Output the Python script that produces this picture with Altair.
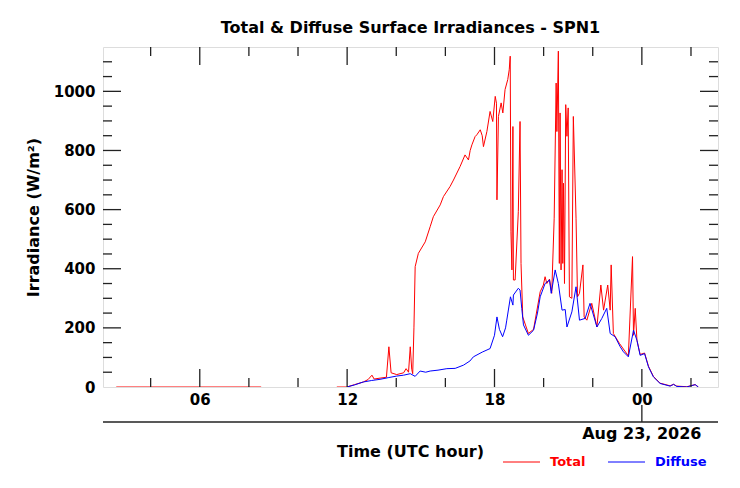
import altair as alt
import pandas as pd

# ---------------- data (hours from 2026-08-22 00:00 UTC, W/m^2) ----------------
total_hours = [2.6, 8.5,
               11.58, 11.99, 12.3, 12.66, 12.85, 13.01, 13.1, 13.34, 13.6, 13.70, 13.79, 14.02, 14.3,
               14.40, 14.5, 14.57, 14.63, 14.67, 14.72, 14.77, 14.90, 15.18, 15.38, 15.51, 15.79,
               15.92, 16.19, 16.33, 16.60, 16.80, 16.94, 17.01, 17.08, 17.21, 17.28, 17.42, 17.50,
               17.55, 17.69, 17.82, 17.93, 18.03, 18.08, 18.10, 18.16, 18.27, 18.34, 18.43, 18.54,
               18.60, 18.64, 18.67, 18.71, 18.75, 18.77, 18.84, 18.97, 19.04, 19.08, 19.15, 19.38,
               19.59, 19.86, 19.99, 20.06, 20.13, 20.24, 20.33, 20.43, 20.51, 20.54, 20.60, 20.64,
               20.67, 20.71, 20.75, 20.78, 20.81, 20.85, 20.90, 20.95, 21.00, 21.05, 21.15, 21.21,
               21.32, 21.38, 21.46, 21.60, 21.65, 21.76, 21.96, 22.17, 22.33, 22.44, 22.61, 22.71,
               22.75, 22.84, 23.09, 23.45, 23.62, 23.66, 23.73, 23.80, 23.93, 24.11, 24.27, 24.47,
               24.74, 25.15, 25.29, 25.42, 25.83, 26.17, 26.30]
total_values = [0, 0,
                0, 0, 8, 17, 25, 40, 27, 30, 33, 136, 48, 42, 48,
                62, 50, 136, 60, 45, 200, 407, 452, 491, 542, 576, 616,
                644, 678, 700, 746, 785, 768, 800, 819, 847, 853, 870, 850,
                813, 864, 932, 898, 983, 960, 633, 915, 961, 927, 1006, 1040,
                1073, 1119, 525, 396, 881, 362, 362, 593, 898, 418, 237, 181,
                195, 322, 345, 373, 350, 365, 317, 571, 1028, 864, 1136, 418,
                927, 396, 735, 418, 689, 350, 955, 848, 944, 305, 300, 915,
                571, 305, 317, 413, 237, 226, 283, 203, 345, 260, 345, 260,
                413, 181, 147, 105, 441, 175, 266, 158, 110, 115, 70, 36,
                13, 4, 9, 3, 1, 8, 0]

diffuse_hours = [11.99, 12.3, 12.66, 13.0, 13.34, 13.7, 14.02, 14.3, 14.57, 14.77, 14.97, 15.2,
                 15.38, 15.7, 16.06, 16.4, 16.74, 17.0, 17.14, 17.5, 17.82, 18.0, 18.10, 18.2,
                 18.33, 18.45, 18.50, 18.65, 18.75, 18.77, 18.97, 19.04, 19.11, 19.18, 19.38,
                 19.59, 19.75, 19.86, 20.06, 20.24, 20.31, 20.47, 20.60, 20.75, 20.88, 20.95,
                 21.15, 21.32, 21.46, 21.69, 21.89, 22.17, 22.37, 22.57, 22.71, 22.91, 23.12,
                 23.25, 23.45, 23.66, 23.80, 23.93, 24.11, 24.27, 24.47, 24.74, 25.15, 25.29,
                 25.42, 25.83, 26.17, 26.30]
diffuse_values = [0, 7, 17, 22, 26, 32, 37, 40, 45, 36, 54, 50,
                  54, 57, 62, 63, 74, 88, 102, 118, 130, 175, 237, 195,
                  170, 200, 226, 305, 277, 311, 334, 328, 266, 210, 175,
                  192, 250, 305, 350, 362, 317, 396, 350, 260, 262, 203,
                  254, 339, 226, 232, 283, 203, 232, 266, 181, 170, 136,
                  119, 102, 192, 158, 107, 113, 68, 34, 12, 3, 9,
                  2, 0, 8, 0]

x_major_ticks = [6, 12, 18, 24]
x_minor_ticks = [4, 8, 10, 14, 16, 20, 22, 26]
y_labels = [0, 200, 400, 600, 800, 1000]
y_major_ticks = [200, 400, 600, 800, 1000]
y_minor_ticks = [50, 100, 150, 250, 300, 350, 450, 500, 550, 650, 700, 750, 850, 900, 950, 1050, 1100]
date_label_hour = [24]
date_label_text = ["Aug 23, 2026"]
series_names = ["Total", "Diffuse"]
series_colors = ["#ff0000", "#0000ff"]

# ---------------- layout ----------------
W, H = 615, 340
MAJ, MIN = 18, 9
FRAME = "#222222"
FONT = "DejaVu Sans"

total_df = pd.DataFrame({"hour": total_hours, "value": total_values})
total_df["seg"] = (total_df["hour"] > 10).astype(int)
diffuse_df = pd.DataFrame({"hour": diffuse_hours, "value": diffuse_values})

xs = alt.Scale(domain=[2.06, 27.1], nice=False, zero=False)
ys = alt.Scale(domain=[0, 1150], nice=False, zero=True)

x_axis = alt.Axis(values=x_major_ticks, ticks=False, domain=False, grid=False,
                  labelExpr="datum.value == 24 ? '00' : (datum.value < 10 ? '0' + datum.value : '' + datum.value)",
                  labelFont=FONT, labelFontSize=15, labelFontWeight="bold", labelColor="black",
                  labelPadding=5, title=None)
y_axis = alt.Axis(values=y_labels, format="d", ticks=False, domain=False, grid=False,
                  labelFont=FONT, labelFontSize=15, labelFontWeight="bold", labelColor="black",
                  labelPadding=8, title="Irradiance (W/m²)", titleFont=FONT, titleFontSize=16,
                  titleFontWeight="bold", titleColor="black", titlePadding=12)

def X(field):
    return alt.X(field, scale=xs, axis=x_axis, title=None)

def Y(field):
    return alt.Y(field, scale=ys, axis=y_axis, title="Irradiance (W/m²)")

total_line = alt.Chart(total_df).mark_line(color=series_colors[0], strokeWidth=1, clip=True).encode(
    x=X("hour:Q"), y=Y("value:Q"), detail="seg:N")
diffuse_line = alt.Chart(diffuse_df).mark_line(color=series_colors[1], strokeWidth=1, clip=True).encode(
    x=X("hour:Q"), y=Y("value:Q"))

def xticks(vals, top, length):
    df = pd.DataFrame({"hour": vals})
    if top:
        yy, yy2 = alt.value(0), alt.value(length)
    else:
        yy, yy2 = alt.value(H), alt.value(H - length)
    return alt.Chart(df).mark_rule(color=FRAME, strokeWidth=1.3).encode(x=X("hour:Q"), y=yy, y2=yy2)

def yticks(vals, right, length):
    df = pd.DataFrame({"value": vals})
    if right:
        xx, xx2 = alt.value(W), alt.value(W - length)
    else:
        xx, xx2 = alt.value(0), alt.value(length)
    return alt.Chart(df).mark_rule(color=FRAME, strokeWidth=1.3).encode(y=Y("value:Q"), x=xx, x2=xx2)

tick_layers = [
    xticks(x_major_ticks, False, MAJ), xticks(x_minor_ticks, False, MIN),
    xticks(x_major_ticks, True, MAJ), xticks(x_minor_ticks, True, MIN),
    yticks(y_major_ticks, False, MAJ), yticks(y_minor_ticks, False, MIN),
    yticks(y_major_ticks, True, MAJ), yticks(y_minor_ticks, True, MIN),
]

# lower date axis
date_df = pd.DataFrame({"hour": date_label_hour, "label": date_label_text})
date_line = alt.Chart(date_df).mark_rule(color=FRAME, strokeWidth=1.3).encode(
    x=alt.value(0), x2=alt.value(W), y=alt.value(H + 35))
date_tick = alt.Chart(date_df).mark_rule(color=FRAME, strokeWidth=1.3).encode(
    x=X("hour:Q"), y=alt.value(H + 35), y2=alt.value(H + 18))
date_text = alt.Chart(date_df).mark_text(font=FONT, fontSize=16, fontWeight="bold", color="black",
                                         baseline="middle", align="center").encode(
    x=X("hour:Q"), y=alt.value(H + 47), text="label:N")

xtitle = alt.Chart(date_df).mark_text(font=FONT, fontSize=16, fontWeight="bold", color="black",
                                      baseline="middle", align="center", text="Time (UTC hour)").encode(
    x=alt.value(W / 2), y=alt.value(H + 65))

# legend (manual, coloured labels)
legend_layers = []
leg_x = [400, 505]
for i, (name, col) in enumerate(zip(series_names, series_colors)):
    ldf = pd.DataFrame({"name": [name]})
    legend_layers.append(alt.Chart(ldf).mark_rule(color=col, strokeWidth=1).encode(
        x=alt.value(leg_x[i]), x2=alt.value(leg_x[i] + 37), y=alt.value(H + 75)))
    legend_layers.append(alt.Chart(ldf).mark_text(font=FONT, fontSize=13, fontWeight="bold", color=col,
                                                  baseline="middle", align="left").encode(
        x=alt.value(leg_x[i] + 47), y=alt.value(H + 75), text="name:N"))

chart = alt.layer(
    total_line, diffuse_line, *tick_layers, date_line, date_tick, date_text, xtitle, *legend_layers
).properties(
    width=W, height=H,
    title=alt.TitleParams("Total & Diffuse Surface Irradiances - SPN1", font=FONT, fontSize=16,
                          fontWeight="bold", color="black", offset=10, anchor="middle"),
    autosize=alt.AutoSizeParams(type="none"),
    padding={"left": 95, "top": 39, "right": 14, "bottom": 94},
).configure_view(stroke=FRAME, strokeWidth=1.5).configure(background="white")

chart.save("out.html", embed_options={"renderer": "svg", "actions": False})
